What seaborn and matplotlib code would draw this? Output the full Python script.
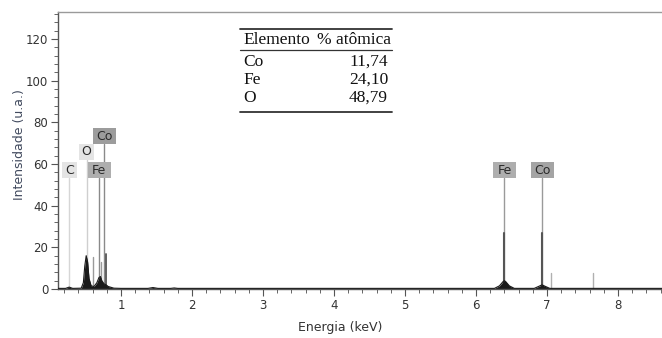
import matplotlib
matplotlib.use("Agg")
import matplotlib.pyplot as plt
import matplotlib.transforms as mtransforms
from matplotlib.patches import Rectangle
from matplotlib.lines import Line2D
from matplotlib.ticker import MultipleLocator
import pandas as pd
import seaborn as sns

# EDS spectrum outline (energy in keV, counts in a.u.)
energy_kev = [0.11, 0.22, 0.27, 0.32, 0.44, 0.47, 0.49, 0.51, 0.53, 0.55,
              0.58, 0.62, 0.66, 0.69, 0.71, 0.73, 0.76, 0.79, 0.82, 0.86,
              0.90, 1.00, 1.38, 1.45, 1.52, 1.70, 1.75, 1.80, 6.26, 6.33,
              6.38, 6.40, 6.42, 6.47, 6.54, 6.82, 6.88, 6.93, 6.98, 7.04,
              8.65]
counts = [0.3, 0.3, 0.9, 0.3, 0.4, 3, 11, 16, 13, 5,
          1.5, 1.2, 3, 5.5, 6, 4, 2.5, 2, 1.2, 0.8,
          0.4, 0.3, 0.3, 0.7, 0.3, 0.3, 0.5, 0.3, 0.3, 1.5,
          3.5, 4, 3.5, 1.5, 0.3, 0.3, 1.2, 2, 1.2, 0.3,
          0.3]

# narrow emission lines
line_energy = [0.61, 0.72, 0.785, 6.40, 6.93, 7.06, 7.65]
line_height = [15.5, 13, 16.8, 27, 27, 7.8, 7.8]

# identified peaks
peak_symbols = ["C", "O", "Fe", "Co", "Fe", "Co"]
peak_energy = [0.27, 0.516, 0.695, 0.765, 6.40, 6.93]

# composition table
table_elements = ["Co", "Fe", "O"]
table_atomic_pct = [11.74, 24.10, 48.79]

x_ticks = [1, 2, 3, 4, 5, 6, 7, 8]
y_ticks = [0, 20, 40, 60, 80, 100, 120]

sns.set_theme(style="ticks")
plt.rcParams["font.family"] = ["DejaVu Sans"]

W, H = 662, 338
fig = plt.figure(figsize=(W / 100, H / 100), dpi=100)
ax = fig.add_axes([58 / W, 1 - 289 / H, (W - 58) / W, 277 / H])


def fig_xy(px, py):
    return px / W, 1 - py / H


# peak markers: label height, box colour, line colour
label_y = [57.1, 65.8, 57.1, 73.4, 57.1, 57.1]
box_face = ["#e4e4e4", "#e4e4e4", "#aeaeae", "#9c9c9c", "#aeaeae", "#a4a4a4"]
marker_color = ["#d6d6d6", "#cfcfcf", "#8a8a8a", "#8a8a8a", "#9a9a9a", "#9a9a9a"]
box_h = 16 / 100
for sym, e, y, fc, mc in zip(peak_symbols, peak_energy, label_y, box_face, marker_color):
    ax.plot([e, e], [0, y - 3.8], color=mc, lw=1.0, zorder=1)
    box_w = (15 if len(sym) == 1 else 23) / 100
    trans = fig.dpi_scale_trans + mtransforms.ScaledTranslation(e, y, ax.transData)
    ax.add_patch(Rectangle((-box_w / 2, -box_h / 2), box_w, box_h, transform=trans,
                           facecolor=fc, edgecolor="none", zorder=3, clip_on=False))
    ax.text(e, y, sym, ha="center", va="center", fontsize=9, color="#2a2a2a", zorder=4)

# emission lines
line_color = ["#9a9a9a", "#9a9a9a", "#555555", "#555555", "#555555", "#b0b0b0", "#b0b0b0"]
line_width = [1.0, 1.0, 1.3, 1.5, 1.5, 1.0, 1.0]
for e, h, c, w in zip(line_energy, line_height, line_color, line_width):
    ax.plot([e, e], [0, h], color=c, lw=w, zorder=2)

# spectrum
spectrum = pd.DataFrame({"energy": energy_kev, "counts": counts})
ax.fill_between(spectrum["energy"], 0, spectrum["counts"], color="#1a1a1a", lw=0, zorder=2.5)
sns.lineplot(data=spectrum, x="energy", y="counts", ax=ax, color="#1a1a1a", lw=0.8,
             estimator=None, sort=False, zorder=2.6)

ax.set_xlim(0.113, 8.62)
ax.set_ylim(0, 133)
ax.set_xticks(x_ticks)
ax.set_yticks(y_ticks)
ax.xaxis.set_minor_locator(MultipleLocator(0.2))
ax.yaxis.set_minor_locator(MultipleLocator(4))
ax.tick_params(which="major", direction="out", length=5, width=0.8, color="#555555",
               labelsize=8.5, labelcolor="#333333", bottom=True, left=True, pad=2)
ax.tick_params(which="minor", direction="out", length=3, width=0.7, color="#666666",
               bottom=True, left=True)

for side in ["left", "bottom"]:
    ax.spines[side].set_color("#555555")
    ax.spines[side].set_linewidth(1.0)
ax.spines["top"].set_color("#9a9a9a")
ax.spines["top"].set_linewidth(1.0)
ax.spines["right"].set_visible(False)

ax.set_xlabel("Energia (keV)", fontsize=9, color="#333333")
ax.xaxis.label.set_va("center")
ax.xaxis.set_label_coords((340 - 58) / (W - 58), (289 - 328) / 277)
ax.set_ylabel("Intensidade (u.a.)", fontsize=9, color="#414a5e")
ax.yaxis.label.set_va("center")
ax.yaxis.set_label_coords((19 - 58) / (W - 58), (289 - 145) / 277)

# composition table
serif = ["Liberation Serif", "DejaVu Serif"]
tsize = 12.5
for py, lw in [(29, 1.3), (50, 0.9), (112, 1.3)]:
    (x0, y0), (x1, _) = fig_xy(240, py), fig_xy(392, py)
    fig.add_artist(Line2D([x0, x1], [y0, y0], transform=fig.transFigure,
                          color="#333333", lw=lw))
fig.text(*fig_xy(243, 40), "Elemento", ha="left", va="center", fontsize=tsize,
         family=serif, color="#111111")
fig.text(*fig_xy(391, 40), "% atômica", ha="right", va="center", fontsize=tsize,
         family=serif, color="#111111")
for i, (el, pct) in enumerate(zip(table_elements, table_atomic_pct)):
    py = 62 + 18 * i
    fig.text(*fig_xy(243, py), el, ha="left", va="center", fontsize=tsize,
             family=serif, color="#111111")
    fig.text(*fig_xy(388, py), f"{pct:.2f}".replace(".", ","), ha="right", va="center",
             fontsize=tsize, family=serif, color="#111111")

fig.savefig("out.png", dpi=100)
